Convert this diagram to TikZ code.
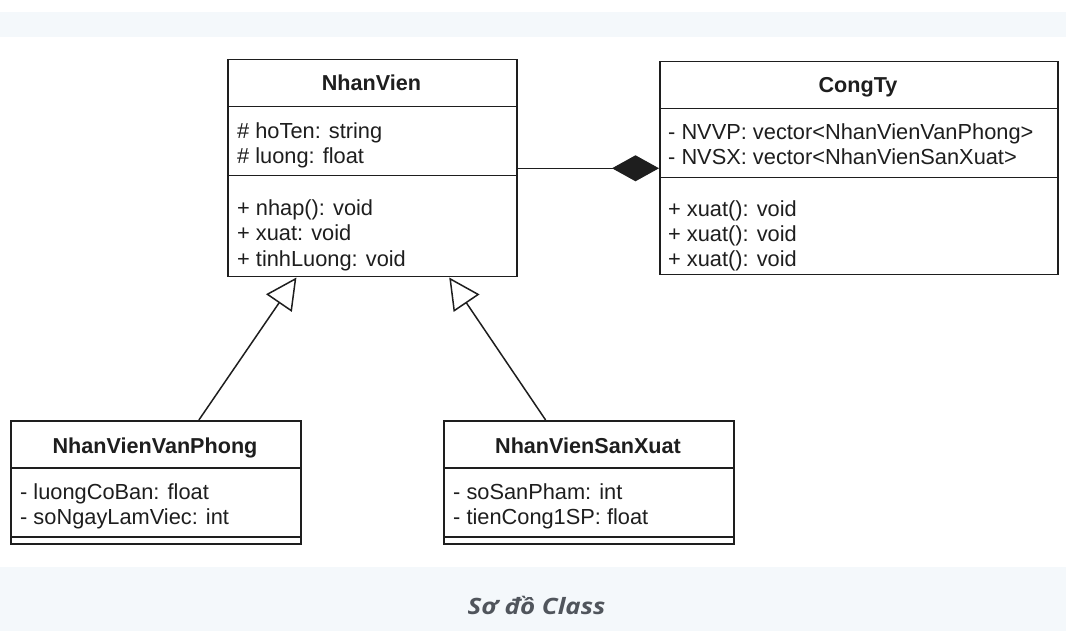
\documentclass[tikz,border=0pt]{standalone}
\usepackage{fontspec}
\setmainfont{Liberation Sans}
\newfontfamily\capfont[FakeStretch=1.15]{Open Sans}
\usetikzlibrary{arrows.meta,calc}
\definecolor{band}{HTML}{F4F8FB}
\definecolor{ink}{HTML}{1E1E1E}
\definecolor{capgray}{HTML}{50555C}
\tikzset{
  cls/.style={draw=ink, line width=1.5pt, rectangle, inner sep=0pt, anchor=north west, fill=white},
  lbl/.style={anchor=base west, inner sep=0pt, text=ink, font=\fontsize{21.8}{25}\selectfont},
  ttl/.style={anchor=base, inner sep=0pt, text=ink, font=\fontsize{21.6}{25}\selectfont\bfseries},
  inh/.style={draw=ink, line width=1.5pt, -{Triangle[open, length=31pt, width=31pt, fill=white]}},
  comp/.style={draw=ink, line width=1.5pt, -{Diamond[length=47pt, width=26pt, fill=ink]}}
}
\begin{document}
\begin{tikzpicture}[x=1pt, y=-1pt]
\useasboundingbox (0,0) rectangle (1066,631);
% background bands
\fill[band] (0,12) rectangle (1066,37);
\fill[band] (0,567) rectangle (1066,631);

% NhanVien
\node[cls, minimum width=289pt, minimum height=47pt] (nvH) at (227,59) {};
\node[cls, minimum width=289pt, minimum height=69pt] (nvA) at (227,106) {};
\node[cls, minimum width=289pt, minimum height=101pt] (nvM) at (227,175) {};
\node[ttl] (nvT) at (371.5,91) {NhanVien};
\node[lbl] (nv1) at (237,138.5) {\# hoTen: string};
\node[lbl] (nv2) at (237,163.5) {\# luong: float};
\node[lbl] (nv3) at (237,216) {+ nhap(): void};
\node[lbl] (nv4) at (237,241) {+ xuat: void};
\node[lbl] (nv5) at (237,266) {+ tinhLuong: void};

% CongTy
\node[cls, minimum width=398pt, minimum height=47pt] (ctH) at (659,61) {};
\node[cls, minimum width=398pt, minimum height=69pt] (ctA) at (659,108) {};
\node[cls, minimum width=398pt, minimum height=97pt] (ctM) at (659,177) {};
\node[ttl] (ctT) at (858,93) {CongTy};
\node[lbl] (ct1) at (668,139.5) {- NVVP: vector<NhanVienVanPhong>};
\node[lbl] (ct2) at (668,164.5) {- NVSX: vector<NhanVienSanXuat>};
\node[lbl] (ct3) at (668,217) {+ xuat(): void};
\node[lbl] (ct4) at (668,242) {+ xuat(): void};
\node[lbl] (ct5) at (668,267) {+ xuat(): void};

% NhanVienVanPhong
\node[cls, minimum width=290pt, minimum height=47pt] (vpH) at (10,420) {};
\node[cls, minimum width=290pt, minimum height=69pt] (vpA) at (10,467) {};
\node[cls, minimum width=290pt, minimum height=7pt] (vpM) at (10,536) {};
\node[ttl] (vpT) at (155,453) {NhanVienVanPhong};
\node[lbl] (vp1) at (20,499) {- luongCoBan: float};
\node[lbl] (vp2) at (20,524) {- soNgayLamViec: int};

% NhanVienSanXuat
\node[cls, minimum width=290pt, minimum height=47pt] (sxH) at (443,420) {};
\node[cls, minimum width=290pt, minimum height=69pt] (sxA) at (443,467) {};
\node[cls, minimum width=290pt, minimum height=7pt] (sxM) at (443,536) {};
\node[ttl] (sxT) at (588,453) {NhanVienSanXuat};
\node[lbl] (sx1) at (453,499) {- soSanPham: int};
\node[lbl] (sx2) at (453,524) {- tienCong1SP: float};

% connectors
\draw[inh] ($(vpH.north west)!0.648!(vpH.north east)$) -- ($(nvM.south west)!0.239!(nvM.south east)$);
\draw[inh] ($(sxH.north west)!0.352!(sxH.north east)$) -- ($(nvM.south west)!0.765!(nvM.south east)$);
\coordinate (cj) at ($(ctA.north west)!0.855!(ctA.south west)$);
\draw[comp] (nvA.east |- cj) -- (cj);

% caption
\node[anchor=base, inner sep=0pt, text=capgray, font=\capfont\fontsize{22.5}{26}\selectfont\bfseries\itshape] (cap) at (536.5,614) {Sơ đồ Class};
\end{tikzpicture}
\end{document}
